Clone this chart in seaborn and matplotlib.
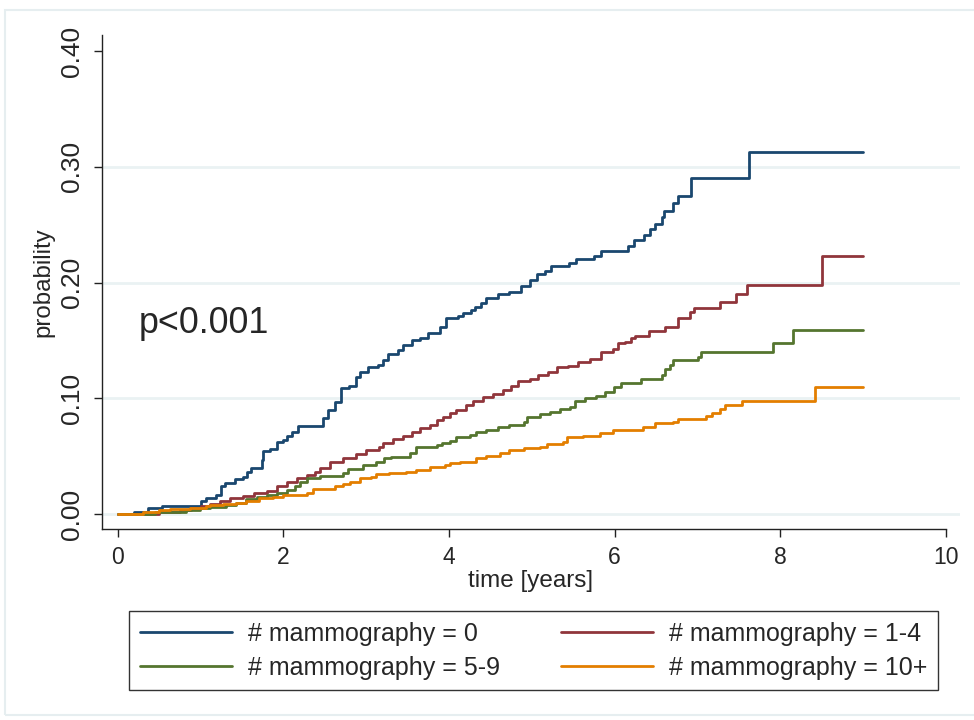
import pandas as pd
import numpy as np
import matplotlib.pyplot as plt
import seaborn as sns
from matplotlib.patches import Rectangle
from matplotlib.lines import Line2D
from matplotlib.ticker import FormatStrFormatter

sns.set_style("white")
plt.rcParams['font.family'] = ['Liberation Sans', 'DejaVu Sans']

# --- data: step change points (time in years, cumulative probability) ---
GROUPS = ['# mammography = 0', '# mammography = 1-4', '# mammography = 5-9', '# mammography = 10+']
COLORS = ['#1a476f', '#90353b', '#55752f', '#e37e00']

blue_t = [0, 0.2, 0.37, 0.53, 1.01, 1.07, 1.19, 1.25, 1.29, 1.41, 1.51, 1.56, 1.61, 1.74, 1.76, 1.84,
          1.92, 1.99, 2.04, 2.11, 2.18, 2.48, 2.54, 2.62, 2.69, 2.79, 2.88, 2.92, 3.02, 3.14, 3.2, 3.26,
          3.38, 3.44, 3.55, 3.65, 3.75, 3.89, 3.96, 4.11, 4.17, 4.26, 4.31, 4.39, 4.45, 4.59, 4.73, 4.87,
          4.98, 5.06, 5.16, 5.23, 5.45, 5.53, 5.75, 5.83, 6.16, 6.23, 6.35, 6.43, 6.49, 6.57, 6.6, 6.71,
          6.76, 6.92, 7.62, 9.0]
blue_p = [0, 0.002, 0.005, 0.007, 0.011, 0.014, 0.016, 0.024, 0.027, 0.030, 0.032, 0.036, 0.040, 0.047,
          0.054, 0.056, 0.062, 0.064, 0.067, 0.071, 0.076, 0.083, 0.090, 0.097, 0.109, 0.111, 0.118, 0.123,
          0.127, 0.129, 0.133, 0.138, 0.142, 0.146, 0.150, 0.152, 0.156, 0.162, 0.169, 0.171, 0.174, 0.176,
          0.179, 0.182, 0.187, 0.190, 0.192, 0.197, 0.202, 0.207, 0.210, 0.214, 0.217, 0.220, 0.223, 0.227,
          0.232, 0.237, 0.241, 0.246, 0.251, 0.257, 0.262, 0.269, 0.275, 0.290, 0.313, 0.313]

red_t = [0, 0.5, 0.75, 0.89, 1.01, 1.11, 1.23, 1.35, 1.51, 1.65, 1.8, 1.92, 2.04, 2.16, 2.28, 2.38, 2.44,
         2.56, 2.72, 2.88, 3.0, 3.16, 3.2, 3.32, 3.44, 3.55, 3.65, 3.77, 3.85, 3.93, 4.01, 4.09, 4.21, 4.29,
         4.41, 4.53, 4.65, 4.75, 4.83, 4.98, 5.08, 5.2, 5.3, 5.44, 5.56, 5.7, 5.84, 5.98, 6.04, 6.12, 6.2,
         6.24, 6.42, 6.61, 6.77, 6.91, 6.96, 7.27, 7.46, 7.6, 8.5, 9.0]
red_p = [0, 0.002, 0.0035, 0.005, 0.007, 0.009, 0.0115, 0.0135, 0.0155, 0.018, 0.020, 0.024, 0.028, 0.031,
         0.034, 0.036, 0.040, 0.045, 0.048, 0.052, 0.055, 0.058, 0.061, 0.065, 0.067, 0.071, 0.074, 0.077,
         0.081, 0.084, 0.087, 0.090, 0.094, 0.098, 0.101, 0.104, 0.107, 0.111, 0.115, 0.117, 0.120, 0.123,
         0.127, 0.128, 0.131, 0.134, 0.140, 0.143, 0.148, 0.149, 0.152, 0.154, 0.158, 0.162, 0.169, 0.175,
         0.178, 0.183, 0.190, 0.198, 0.223, 0.223]

green_t = [0, 0.45, 0.83, 0.99, 1.11, 1.31, 1.43, 1.55, 1.68, 1.8, 1.92, 2.04, 2.14, 2.2, 2.28, 2.44, 2.72,
           2.78, 2.96, 3.12, 3.22, 3.3, 3.53, 3.6, 3.85, 3.91, 4.01, 4.09, 4.25, 4.33, 4.45, 4.59, 4.73, 4.9,
           4.94, 5.1, 5.22, 5.34, 5.46, 5.52, 5.64, 5.78, 5.88, 5.99, 6.08, 6.32, 6.57, 6.61, 6.67, 6.71,
           7.01, 7.04, 7.91, 8.15, 9.0]
green_p = [0, 0.002, 0.0035, 0.005, 0.0063, 0.0078, 0.0098, 0.0127, 0.0144, 0.0164, 0.0184, 0.0207, 0.024,
           0.028, 0.031, 0.033, 0.035, 0.039, 0.042, 0.045, 0.048, 0.0495, 0.0524, 0.0576, 0.0596, 0.0616,
           0.0634, 0.0663, 0.0683, 0.0711, 0.0726, 0.0755, 0.077, 0.0798, 0.084, 0.0864, 0.0884, 0.0905,
           0.0927, 0.098, 0.100, 0.102, 0.105, 0.110, 0.1135, 0.1164, 0.120, 0.125, 0.129, 0.133, 0.136,
           0.140, 0.148, 0.159, 0.159]

orange_t = [0, 0.31, 0.5, 0.63, 0.87, 1.07, 1.11, 1.27, 1.43, 1.55, 1.71, 1.88, 2.0, 2.28, 2.36, 2.52, 2.62,
            2.72, 2.8, 2.92, 3.06, 3.12, 3.28, 3.48, 3.6, 3.77, 3.95, 4.01, 4.13, 4.33, 4.45, 4.61, 4.73,
            4.9, 5.1, 5.18, 5.38, 5.42, 5.62, 5.82, 5.98, 6.34, 6.49, 6.7, 6.76, 7.1, 7.17, 7.27, 7.33, 7.54,
            8.42, 9.0]
orange_p = [0, 0.002, 0.003, 0.004, 0.005, 0.007, 0.0078, 0.0086, 0.0098, 0.0115, 0.0135, 0.015, 0.0164,
            0.018, 0.0213, 0.022, 0.024, 0.026, 0.028, 0.031, 0.0322, 0.0346, 0.0357, 0.0366, 0.038, 0.041,
            0.0424, 0.044, 0.0452, 0.048, 0.050, 0.0524, 0.0553, 0.0573, 0.058, 0.0605, 0.0625, 0.0663,
            0.0674, 0.0697, 0.0725, 0.075, 0.0784, 0.0798, 0.082, 0.0847, 0.0876, 0.0905, 0.094, 0.0977,
            0.1095, 0.1095]

Y_TICKS = [0.0, 0.1, 0.2, 0.3, 0.4]
X_TICKS = [0, 2, 4, 6, 8, 10]

# long table for seaborn
series = [(blue_t, blue_p), (red_t, red_p), (green_t, green_p), (orange_t, orange_p)]
df = pd.concat([pd.DataFrame({'time': t, 'probability': p, 'group': g})
                for (t, p), g in zip(series, GROUPS)], ignore_index=True)

W, H = 974, 720
fig = plt.figure(figsize=(W / 100, H / 100), dpi=100)
fig.patch.set_facecolor('white')

# light outer graph-region frame (Stata style)
fig.patches.append(Rectangle((5 / W, 5 / H), 1.2, (H - 15) / H, transform=fig.transFigure,
                             fill=False, edgecolor='#e6eef0', lw=1.5))

ax = fig.add_axes([102 / W, 1 - 529 / H, (960 - 102) / W, (529 - 35) / H])

sns.lineplot(data=df, x='time', y='probability', hue='group', hue_order=GROUPS,
             palette=COLORS, estimator=None, drawstyle='steps-post', lw=2.0, legend=False, ax=ax)

ax.set_xlim(-0.19, 10.17)
ax.set_ylim(-0.013, 0.414)
ax.set_xticks(X_TICKS)
ax.set_yticks(Y_TICKS)
ax.yaxis.set_major_formatter(FormatStrFormatter('%.2f'))

ax.grid(axis='y', color='#eaf2f3', lw=2)
ax.set_axisbelow(True)
ax.get_ygridlines()[-1].set_visible(False)

for side in ['top', 'right']:
    ax.spines[side].set_visible(False)
for side in ['left', 'bottom']:
    ax.spines[side].set_color('#222222')
    ax.spines[side].set_linewidth(1.0)
ax.spines['bottom'].set_bounds(-0.19, 10.0)

ax.tick_params(axis='both', which='major', direction='out', length=6, width=1.0,
               color='#222222', bottom=True, left=True)
ax.tick_params(axis='x', labelsize=16.5, pad=6)
ax.tick_params(axis='y', labelsize=19, pad=7)
plt.setp(ax.get_yticklabels(), rotation=90, va='center')

ax.set_xlabel('time [years]', fontsize=17.5, labelpad=1)
ax.set_ylabel('probability', fontsize=17.3, labelpad=4)

ax.text(0.25, 0.165, 'p<0.001', fontsize=25.8, ha='left', va='center')

# legend filled row-wise like the reference: (0, 1-4) / (5-9, 10+)
order = [0, 2, 1, 3]
handles = [Line2D([], [], color=COLORS[i], lw=2.0) for i in order]
labels = [GROUPS[i] for i in order]
leg = fig.legend(handles, labels, loc='center', ncol=2, mode='expand',
                 bbox_to_anchor=(129 / W, 1 - 691 / H, (938 - 129) / W, 81 / H),
                 fontsize=18, frameon=True, fancybox=False, handlelength=3.7,
                 handletextpad=0.64, labelspacing=0.4, borderpad=0.42, borderaxespad=0)
leg.get_frame().set_edgecolor('black')
leg.get_frame().set_linewidth(1.0)

fig.savefig('out.png', dpi=100)
